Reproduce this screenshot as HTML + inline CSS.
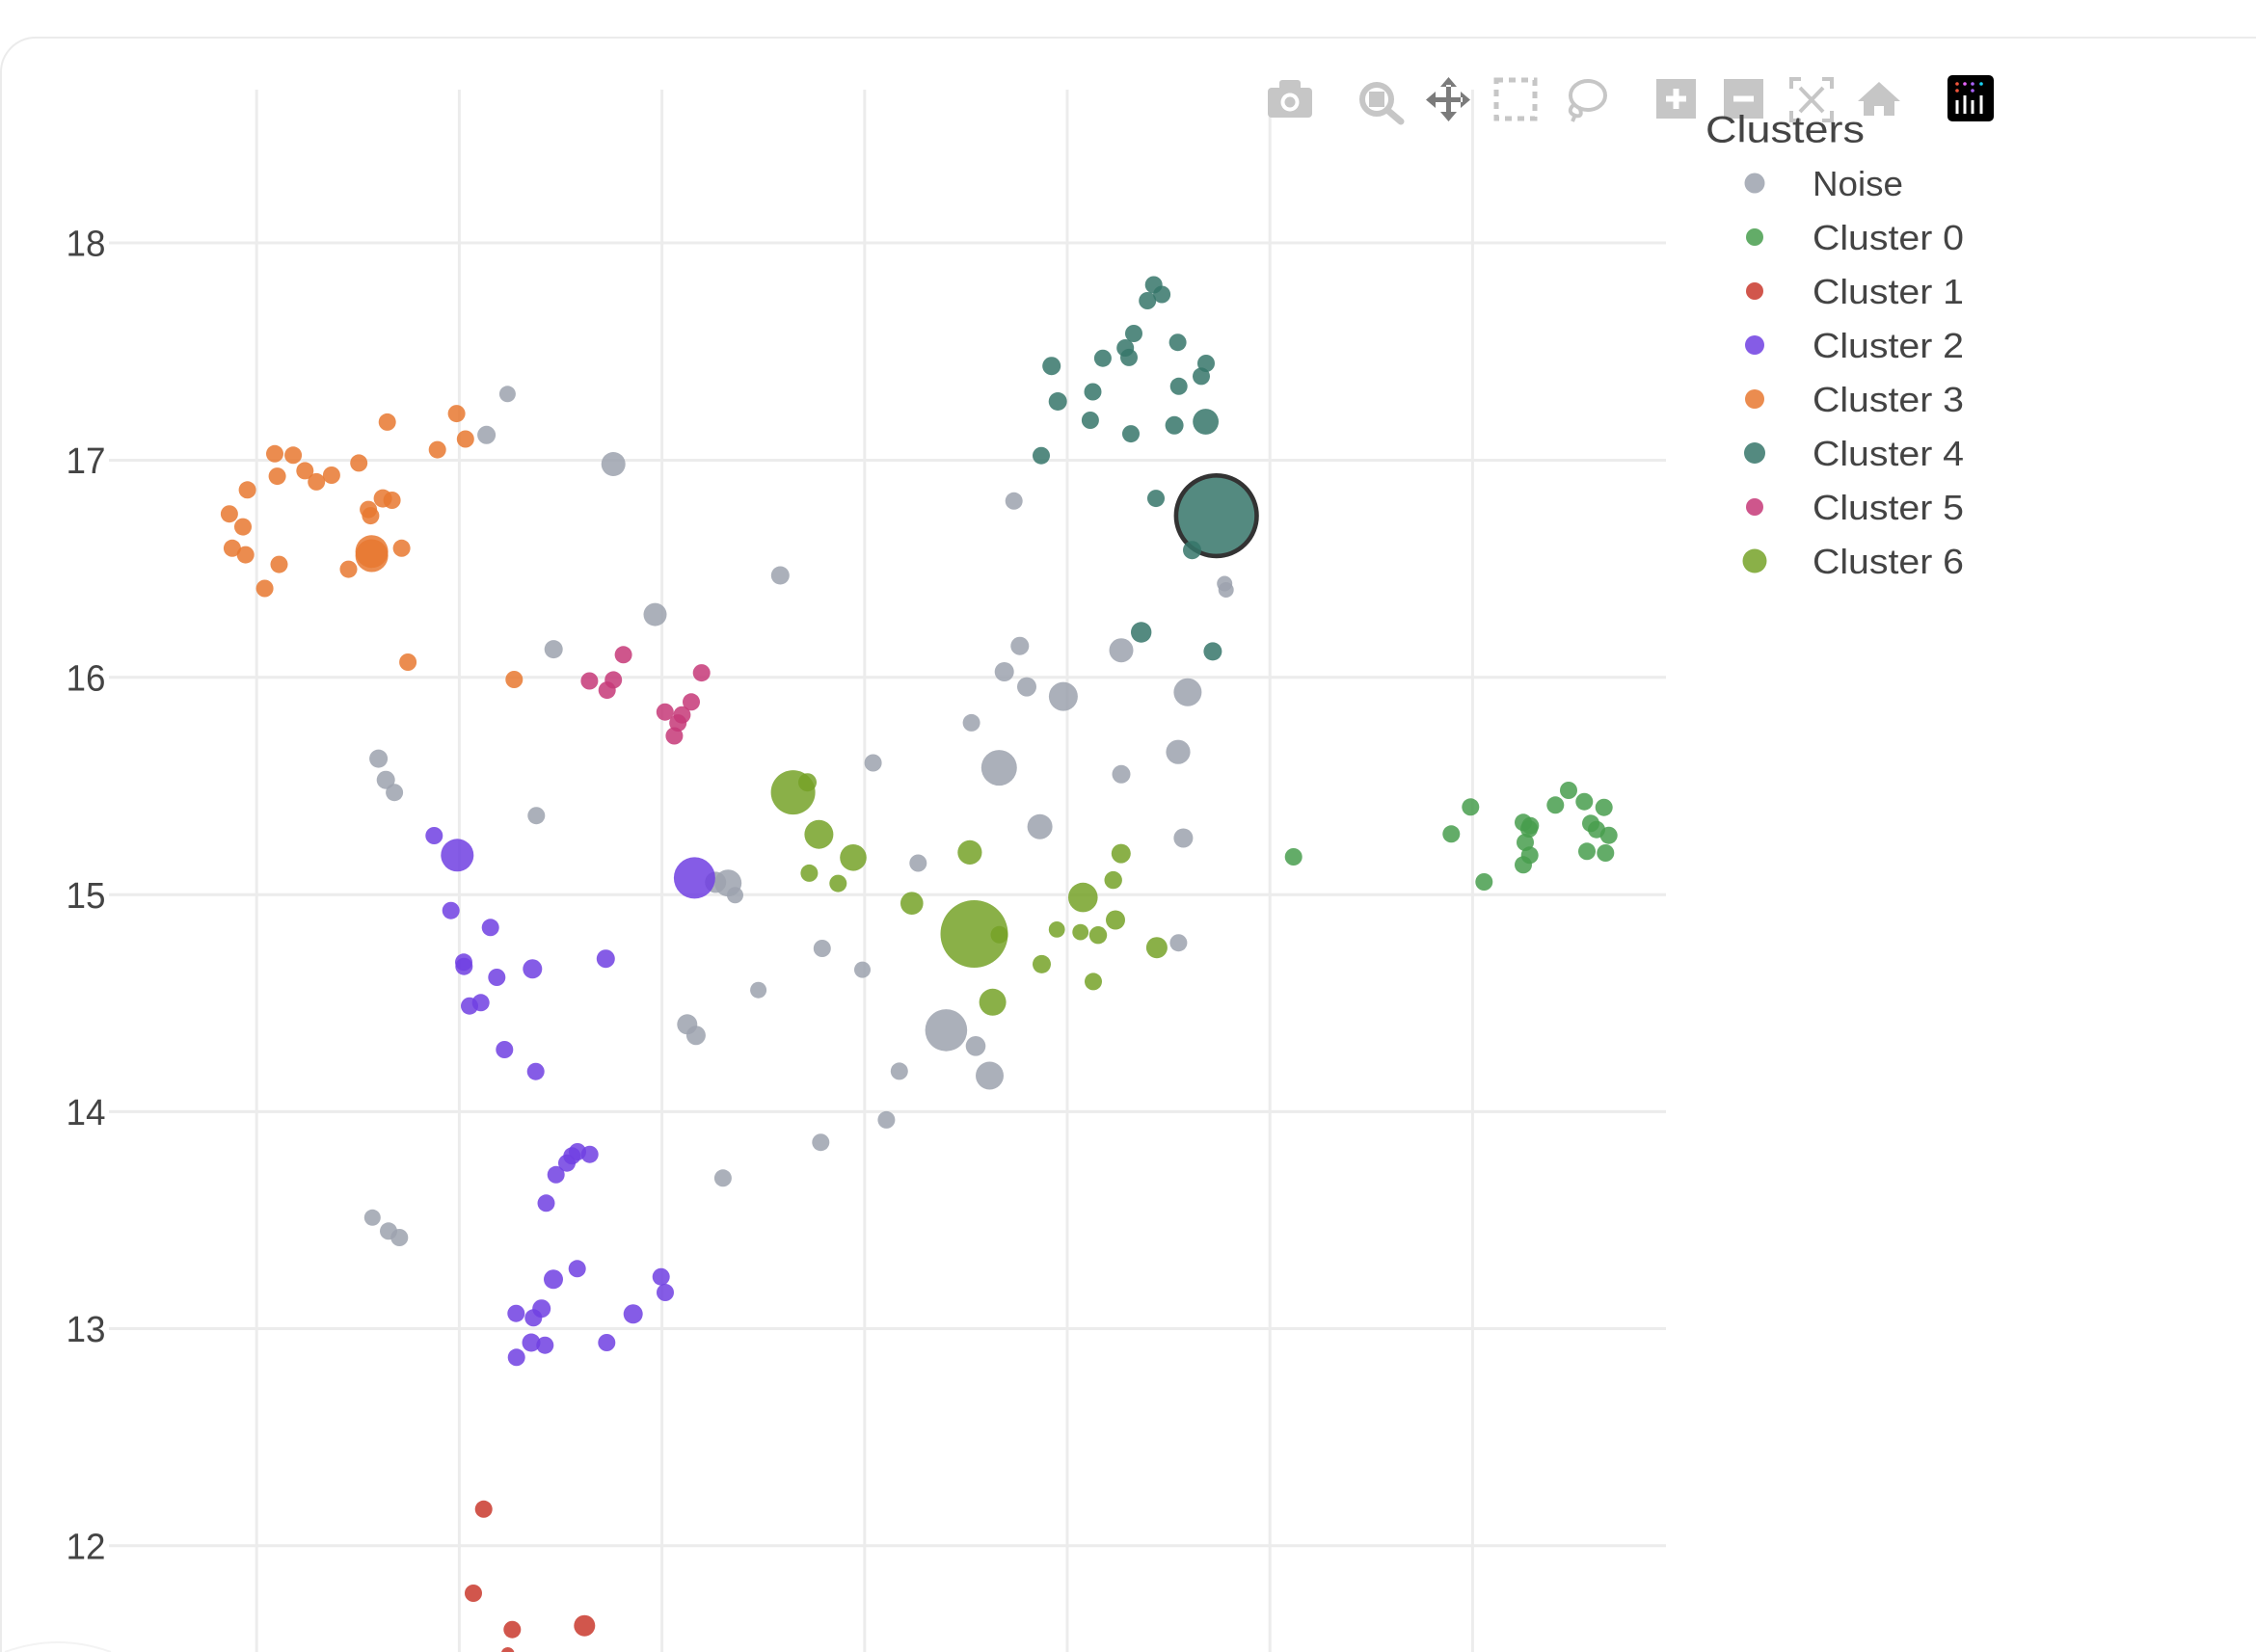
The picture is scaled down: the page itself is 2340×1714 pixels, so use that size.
<!DOCTYPE html>
<html>
<head>
<meta charset="utf-8">
<style>
html,body{margin:0;padding:0;background:#fff;width:2340px;height:1714px;overflow:hidden;}
svg{display:block;}
text{font-family:"Liberation Sans",Arial,sans-serif;fill:#444;}
</style>
</head>
<body>
<svg width="2340" height="1714" viewBox="0 0 2340 1714" xmlns="http://www.w3.org/2000/svg">
<rect x="0" y="0" width="2340" height="1714" fill="#fff"/>
<path d="M1 1714 V75 A36 36 0 0 1 37 39 H2340" fill="none" stroke="#ebebeb" stroke-width="2"/>
<path d="M5 1714 Q60 1694 115 1714" fill="none" stroke="#f3f3f3" stroke-width="2"/>

<g stroke="#ececec" stroke-width="3">
<path d="M266.2 93V1714M476.4 93V1714M686.6 93V1714M896.8 93V1714M1107 93V1714M1317.2 93V1714M1527.4 93V1714"/>
<path d="M113 252H1728M113 477.5H1728M113 702.8H1728M113 928.2H1728M113 1153.4H1728M113 1378.5H1728M113 1603.8H1728"/>
</g>

<g font-size="38" text-anchor="end">
<text x="109.5" y="265.7" textLength="41" lengthAdjust="spacingAndGlyphs">18</text>
<text x="109.5" y="491.2" textLength="41" lengthAdjust="spacingAndGlyphs">17</text>
<text x="109.5" y="716.5" textLength="41" lengthAdjust="spacingAndGlyphs">16</text>
<text x="109.5" y="941.9" textLength="41" lengthAdjust="spacingAndGlyphs">15</text>
<text x="109.5" y="1167.1" textLength="41" lengthAdjust="spacingAndGlyphs">14</text>
<text x="109.5" y="1392.2" textLength="41" lengthAdjust="spacingAndGlyphs">13</text>
<text x="109.5" y="1617.5" textLength="41" lengthAdjust="spacingAndGlyphs">12</text>
</g>

<g fill="#9ca2ae" fill-opacity="0.85">
<circle cx="526.4" cy="408.8" r="8.5"/><circle cx="504.6" cy="451.3" r="9.5"/><circle cx="636.2" cy="481.5" r="12.5"/>
<circle cx="679.5" cy="637.6" r="12"/><circle cx="574.2" cy="673.6" r="9.5"/><circle cx="392.6" cy="787.1" r="9.5"/>
<circle cx="400.2" cy="809.2" r="9.5"/><circle cx="409.1" cy="822.2" r="9"/><circle cx="556.3" cy="846.2" r="9"/>
<circle cx="809.3" cy="597" r="9.5"/><circle cx="1051.7" cy="519.8" r="9"/><circle cx="1270.2" cy="605.5" r="8"/>
<circle cx="1271.7" cy="612" r="8"/><circle cx="1057.8" cy="670.2" r="9.5"/><circle cx="1163" cy="674.7" r="12.5"/>
<circle cx="1041.7" cy="697" r="10"/><circle cx="1065" cy="712.6" r="10"/><circle cx="1102.9" cy="722.6" r="15"/>
<circle cx="1231.9" cy="718.2" r="14.5"/><circle cx="1007.6" cy="749.9" r="9"/><circle cx="1036.3" cy="796.6" r="18.5"/>
<circle cx="1163" cy="803.3" r="9.5"/><circle cx="1222" cy="780.2" r="12.6"/><circle cx="905.6" cy="791.5" r="9"/>
<circle cx="1078.6" cy="857.7" r="13"/><circle cx="1227.4" cy="869.5" r="10"/><circle cx="952.3" cy="895.5" r="9"/>
<circle cx="755.2" cy="916.2" r="14"/><circle cx="742.2" cy="915.4" r="11"/><circle cx="762.5" cy="928.8" r="8.5"/>
<circle cx="852.8" cy="984" r="9"/><circle cx="894.5" cy="1006.1" r="8.5"/><circle cx="786.6" cy="1027.2" r="8.5"/>
<circle cx="1222.4" cy="978.2" r="9"/><circle cx="712.8" cy="1062.8" r="10.5"/><circle cx="721.9" cy="1074.2" r="10"/>
<circle cx="981.4" cy="1068.9" r="21.8"/><circle cx="1012" cy="1085.3" r="10.3"/><circle cx="1026.5" cy="1116" r="14.5"/>
<circle cx="932.8" cy="1111.4" r="9"/><circle cx="919.4" cy="1161.9" r="9"/><circle cx="851.3" cy="1185.2" r="9"/>
<circle cx="749.9" cy="1222.3" r="9"/><circle cx="386.3" cy="1263.3" r="8.5"/><circle cx="403" cy="1277.3" r="9"/>
<circle cx="414.3" cy="1284" r="9"/>
</g>

<g fill="#489e4d" fill-opacity="0.85">
<circle cx="1341.7" cy="889" r="9"/><circle cx="1505.3" cy="865.3" r="9"/><circle cx="1525.3" cy="837.3" r="9"/>
<circle cx="1539.3" cy="915" r="9"/><circle cx="1580" cy="853.3" r="9"/><circle cx="1587.3" cy="856.7" r="9"/>
<circle cx="1586" cy="860" r="9"/><circle cx="1582" cy="874" r="9"/><circle cx="1586.7" cy="887.3" r="9"/>
<circle cx="1580" cy="897.3" r="9"/><circle cx="1613.3" cy="835.3" r="9"/><circle cx="1627" cy="820" r="9"/>
<circle cx="1643.3" cy="831.7" r="9"/><circle cx="1663.7" cy="837.7" r="9"/><circle cx="1650" cy="854.3" r="9"/>
<circle cx="1656" cy="860.7" r="9"/><circle cx="1668.7" cy="866.7" r="9"/><circle cx="1646" cy="883.3" r="9"/>
<circle cx="1665.3" cy="885" r="9"/>
</g>

<g fill="#c9382d" fill-opacity="0.85">
<circle cx="501.7" cy="1565.8" r="9"/><circle cx="491" cy="1653" r="9"/><circle cx="531.3" cy="1690.7" r="9"/>
<circle cx="606.3" cy="1686.7" r="11"/>
<path d="M520 1714 A7 7 0 0 1 533.4 1714 Z"/>
</g>

<g fill="#703fe2" fill-opacity="0.85">
<circle cx="450.3" cy="867" r="9"/><circle cx="474.3" cy="887.3" r="17"/><circle cx="720.4" cy="910.9" r="21.5"/>
<circle cx="467.7" cy="944.7" r="9"/><circle cx="508.7" cy="962.3" r="9"/><circle cx="481" cy="998.3" r="9"/>
<circle cx="481.3" cy="1002.7" r="9"/><circle cx="628.3" cy="994.7" r="9.5"/><circle cx="552.3" cy="1005.3" r="10"/>
<circle cx="515.3" cy="1014" r="9"/><circle cx="487" cy="1043.7" r="9"/><circle cx="498.7" cy="1040.3" r="9"/>
<circle cx="523.3" cy="1089" r="9"/><circle cx="555.7" cy="1111.7" r="9"/><circle cx="599" cy="1195" r="9"/>
<circle cx="593.3" cy="1199.3" r="9"/><circle cx="611.7" cy="1197.7" r="9"/><circle cx="588" cy="1206.7" r="9"/>
<circle cx="576.7" cy="1218.8" r="9"/><circle cx="566.5" cy="1248.3" r="9"/><circle cx="598.7" cy="1316.3" r="9"/>
<circle cx="574" cy="1327.3" r="10"/><circle cx="685.7" cy="1324.7" r="9"/><circle cx="690" cy="1341" r="9"/>
<circle cx="535.3" cy="1362.7" r="9"/><circle cx="561.7" cy="1357.7" r="9.5"/><circle cx="553.3" cy="1367.3" r="9"/>
<circle cx="656.7" cy="1363.3" r="10"/><circle cx="551" cy="1393" r="9.5"/><circle cx="565.3" cy="1395.7" r="9"/>
<circle cx="629.3" cy="1393" r="9"/><circle cx="535.7" cy="1408.3" r="9"/>
</g>

<g fill="#e77830" fill-opacity="0.85">
<circle cx="401.7" cy="437.9" r="9"/><circle cx="473.6" cy="429.1" r="9"/><circle cx="482.8" cy="455.5" r="9"/>
<circle cx="453.7" cy="466.6" r="9"/><circle cx="285" cy="470.8" r="9"/><circle cx="304.1" cy="472.3" r="9"/>
<circle cx="372.2" cy="480.4" r="9"/><circle cx="287.6" cy="494.1" r="9"/><circle cx="316.3" cy="488.4" r="9"/>
<circle cx="328.2" cy="499.9" r="9"/><circle cx="343.9" cy="493" r="9"/><circle cx="256.6" cy="508.3" r="9"/>
<circle cx="397.1" cy="517.1" r="9.5"/><circle cx="406.6" cy="519" r="9"/><circle cx="382.1" cy="528.6" r="9"/>
<circle cx="384.4" cy="535.1" r="9"/><circle cx="237.9" cy="533.2" r="9"/><circle cx="252" cy="546.6" r="9"/>
<circle cx="240.9" cy="568.8" r="9"/><circle cx="254.7" cy="575.6" r="9"/><circle cx="289.5" cy="585.6" r="9"/>
<circle cx="274.6" cy="610.5" r="9"/><circle cx="361.5" cy="590.6" r="9"/><circle cx="416.6" cy="568.8" r="9"/>
<circle cx="385.6" cy="572.2" r="17"/><circle cx="385.6" cy="576.5" r="17"/><circle cx="423.1" cy="687" r="9"/>
<circle cx="533.3" cy="705" r="9"/>
</g>

<g fill="#36766a" fill-opacity="0.85">
<circle cx="1196.7" cy="295.5" r="9"/><circle cx="1205.1" cy="305.5" r="9"/><circle cx="1190.2" cy="312" r="9"/>
<circle cx="1176" cy="346" r="9"/><circle cx="1221.6" cy="355.2" r="9"/><circle cx="1167.2" cy="361" r="9"/>
<circle cx="1171" cy="370.9" r="9"/><circle cx="1143.9" cy="371.7" r="9"/><circle cx="1090.7" cy="379.7" r="9.5"/>
<circle cx="1251" cy="377" r="9"/><circle cx="1246" cy="390.4" r="9"/><circle cx="1133.5" cy="406.5" r="9"/>
<circle cx="1222.7" cy="400.8" r="9"/><circle cx="1097.2" cy="416.5" r="9.5"/><circle cx="1130.9" cy="436" r="9"/>
<circle cx="1218.1" cy="441.3" r="9.5"/><circle cx="1250.6" cy="437.5" r="13.4"/><circle cx="1173" cy="450.1" r="9"/>
<circle cx="1080" cy="472.7" r="9"/><circle cx="1199" cy="517.1" r="9"/>
<circle cx="1261.7" cy="535.1" r="41.8" stroke="#333" stroke-width="4.6"/>
<circle cx="1236.5" cy="570.7" r="9.5"/><circle cx="1183.7" cy="656" r="10.7"/><circle cx="1257.9" cy="675.9" r="9.5"/>
</g>

<g fill="#c53878" fill-opacity="0.85">
<circle cx="646.6" cy="679.3" r="9"/><circle cx="727.7" cy="698.1" r="9"/><circle cx="611.4" cy="706.5" r="9"/>
<circle cx="636.2" cy="705.4" r="9"/><circle cx="629.7" cy="716.1" r="9"/><circle cx="717" cy="728.3" r="9"/>
<circle cx="689.8" cy="738.7" r="9"/><circle cx="707.4" cy="741.7" r="9"/><circle cx="703.2" cy="750.1" r="9"/>
<circle cx="699.4" cy="763.5" r="9"/>
</g>

<g fill="#75a228" fill-opacity="0.85">
<circle cx="822.6" cy="822.1" r="23"/><circle cx="837.5" cy="811.7" r="9.5"/><circle cx="849.4" cy="865.7" r="15"/>
<circle cx="885" cy="889.8" r="13.8"/><circle cx="839.4" cy="905.9" r="9"/><circle cx="869.3" cy="916.6" r="9"/>
<circle cx="1005.9" cy="884.4" r="12.6"/><circle cx="945.8" cy="937.2" r="11.8"/><circle cx="1010.5" cy="969" r="35"/>
<circle cx="1036.5" cy="969.8" r="9"/><circle cx="1162.8" cy="885.6" r="10"/><circle cx="1154.7" cy="913.1" r="9.2"/>
<circle cx="1123.3" cy="931.1" r="15.3"/><circle cx="1157" cy="954.5" r="10"/><circle cx="1096.2" cy="964.4" r="8.4"/>
<circle cx="1120.7" cy="967.1" r="8.4"/><circle cx="1139" cy="970.2" r="9.2"/><circle cx="1199.9" cy="983.2" r="11"/>
<circle cx="1080.5" cy="1000.4" r="9.5"/><circle cx="1134" cy="1018.4" r="9"/><circle cx="1029.6" cy="1039.8" r="14"/>
</g>

<g fill="#c6c6c6">
<rect x="1315" y="91" width="46" height="31" rx="4"/>
<rect x="1327" y="83" width="22" height="11" rx="3"/>
<circle cx="1338" cy="106" r="9.5" fill="#fff"/>
<circle cx="1338" cy="106" r="5.5"/>
<circle cx="1428" cy="103" r="15" fill="none" stroke="#c6c6c6" stroke-width="6"/>
<rect x="1420" y="95" width="16" height="16"/>
<path d="M1440 115 L1453 126" stroke="#c6c6c6" stroke-width="7" stroke-linecap="round"/>
<rect x="1552" y="83" width="40" height="40" fill="none" stroke="#c6c6c6" stroke-width="5" stroke-dasharray="7 6"/>
<ellipse cx="1647" cy="99" rx="18" ry="15" fill="none" stroke="#c6c6c6" stroke-width="4"/>
<path d="M1633 108 q-9 8 1 12 q9 2 4 -9 M1634 119 l-3 7" fill="none" stroke="#c6c6c6" stroke-width="4"/>
<rect x="1718" y="82" width="41" height="41"/>
<path d="M1735.5 92h6v7.5h7.5v6h-7.5v7.5h-6v-7.5h-7.5v-6h7.5z" fill="#fff"/>
<rect x="1788" y="82" width="41" height="41"/>
<rect x="1798" y="99.5" width="21" height="6" fill="#fff"/>
<path d="M1858 92 V82 H1868 M1890 82 H1900 V92 M1900 115 V125 H1890 M1868 125 H1858 V115 M1867 91 L1891 116 M1891 91 L1867 116" stroke="#c6c6c6" stroke-width="4" fill="none"/>
<path d="M1949 85 L1927 105 L1933 105 L1933 120 L1944 120 L1944 110 L1954 110 L1954 120 L1965 120 L1965 105 L1971 105 Z"/>
</g>
<path d="M1500 88h5v13h12v5h-12v13h-5v-13h-13v-5h13z M1502.5 80 L1494 90 L1511 90Z M1502.5 126 L1494 116 L1511 116Z M1479 103.5 L1489 95 L1489 112Z M1525 103.5 L1515 95 L1515 112Z" fill="#7b7b7b"/>

<rect x="2020" y="78" width="48" height="48" rx="5" fill="#000"/>
<circle cx="2030" cy="87" r="1.8" fill="#ef553b"/>
<circle cx="2038" cy="87" r="1.8" fill="#e763fa"/>
<circle cx="2046" cy="87" r="1.8" fill="#ab63fa"/>
<circle cx="2055" cy="87" r="1.8" fill="#19d3f3"/>
<circle cx="2030" cy="94" r="1.8" fill="#ef553b"/>
<circle cx="2046" cy="94" r="1.8" fill="#ab63fa"/>
<path d="M2028.5 104h3v14h-3z M2036.5 99h3v19h-3z M2044.5 104h3v14h-3z M2053.5 99h3v19h-3z" fill="#fff"/>

<text x="1769" y="147.5" font-size="39" textLength="165" lengthAdjust="spacingAndGlyphs">Clusters</text>
<g fill-opacity="0.85">
<circle cx="1820" cy="190" r="10.5" fill="#9ca2ae"/>
<circle cx="1820" cy="246" r="9" fill="#489e4d"/>
<circle cx="1820" cy="302" r="9" fill="#c9382d"/>
<circle cx="1820" cy="358" r="10" fill="#703fe2"/>
<circle cx="1820" cy="414" r="10" fill="#e77830"/>
<circle cx="1820" cy="470" r="11" fill="#36766a"/>
<circle cx="1820" cy="526" r="9" fill="#c53878"/>
<circle cx="1820" cy="582" r="12.5" fill="#75a228"/>
</g>
<g font-size="36">
<text x="1880" y="203" textLength="94" lengthAdjust="spacingAndGlyphs">Noise</text>
<text x="1880" y="259" textLength="157" lengthAdjust="spacingAndGlyphs">Cluster 0</text>
<text x="1880" y="315" textLength="157" lengthAdjust="spacingAndGlyphs">Cluster 1</text>
<text x="1880" y="371" textLength="157" lengthAdjust="spacingAndGlyphs">Cluster 2</text>
<text x="1880" y="427" textLength="157" lengthAdjust="spacingAndGlyphs">Cluster 3</text>
<text x="1880" y="483" textLength="157" lengthAdjust="spacingAndGlyphs">Cluster 4</text>
<text x="1880" y="539" textLength="157" lengthAdjust="spacingAndGlyphs">Cluster 5</text>
<text x="1880" y="595" textLength="157" lengthAdjust="spacingAndGlyphs">Cluster 6</text>
</g>
</svg>
</body>
</html>
